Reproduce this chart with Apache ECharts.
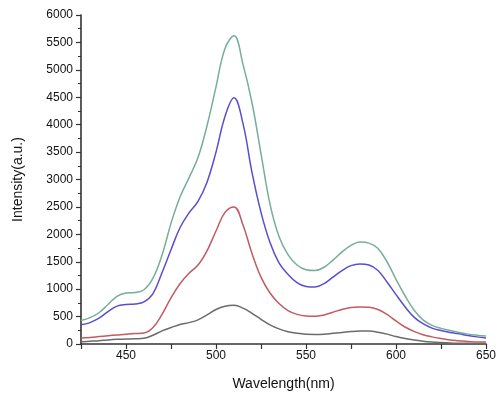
<!DOCTYPE html>
<html>
<head>
<meta charset="utf-8">
<script src="https://cdn.jsdelivr.net/npm/echarts@6/dist/echarts.min.js"></script>
<style>
  html, body { margin: 0; padding: 0; background: #fff; }
  #chart { width: 498px; height: 397px; }
</style>
</head>
<body>
<div id="chart"></div>
<script>
// Emission spectra, 425–650 nm, sampled every 5 nm
const wavelengths = [
  425, 430, 435, 440, 445, 450, 455, 460, 465, 470,
  475, 480, 485, 490, 495, 500, 505, 510, 515, 520,
  525, 530, 535, 540, 545, 550, 555, 560, 565, 570,
  575, 580, 585, 590, 595, 600, 605, 610, 615, 620,
  625, 630, 635, 640, 645, 650
];

const grayCurve = [
  40, 50, 60, 75, 85, 90, 95, 105, 160, 240,
  300, 355, 390, 440, 530, 630, 690, 705, 655, 560,
  450, 350, 275, 225, 195, 178, 175, 180, 195, 210,
  228, 237, 235, 215, 180, 135, 100, 72, 52, 38,
  28, 20, 15, 12, 10, 8
];

const redCurve = [
  110, 120, 135, 150, 165, 180, 190, 200, 300, 540,
  840, 1100, 1290, 1440, 1700, 2060, 2400, 2500, 2170, 1650,
  1220, 930, 740, 610, 540, 510, 505, 530, 580, 630,
  665, 675, 670, 630, 540, 420, 310, 230, 170, 130,
  100, 75, 60, 45, 38, 35
];

const blueCurve = [
  350, 390, 470, 590, 690, 720, 730, 770, 920, 1300,
  1720, 2120, 2390, 2600, 2950, 3500, 4150, 4490, 4020, 3130,
  2400, 1850, 1480, 1270, 1120, 1050, 1040, 1100, 1220, 1340,
  1430, 1460, 1440, 1340, 1130, 900, 680, 490, 370, 290,
  245, 210, 185, 155, 130, 110
];

const greenCurve = [
  430, 480, 570, 720, 870, 930, 940, 990, 1200, 1620,
  2200, 2680, 3030, 3400, 3980, 4690, 5390, 5620, 5100, 4400,
  3470, 2550, 1960, 1630, 1440, 1355, 1340, 1400, 1530, 1680,
  1800, 1860, 1840, 1740, 1500, 1180, 880, 620, 440, 340,
  285, 245, 210, 180, 160, 145
];

const xTickLabels = ['450', '500', '550', '600', '650'];

const seriesDefs = [
  { name: 'gray',  values: grayCurve,  color: '#6b6b6b' },
  { name: 'red',   values: redCurve,   color: '#c25b62' },
  { name: 'blue',  values: blueCurve,  color: '#5b4dd1' },
  { name: 'green', values: greenCurve, color: '#76ae9a' }
];

const font = 'Liberation Sans, Arial, sans-serif';

const chart = echarts.init(document.getElementById('chart'), null, { renderer: 'canvas' });

chart.setOption({
  animation: false,
  backgroundColor: '#ffffff',
  grid: { left: 81, right: 12, top: 15, bottom: 53, outerBoundsMode: 'none' },
  xAxis: {
    type: 'value',
    min: 425,
    max: 650,
    interval: 25,
    name: 'Wavelength(nm)',
    nameLocation: 'middle',
    nameGap: 33,
    nameTextStyle: { fontFamily: font, fontSize: 14, color: '#111' },
    axisLine: { show: true, onZero: false, lineStyle: { color: '#333', width: 1.6 } },
    axisTick: { show: true, inside: false, length: 5, lineStyle: { color: '#333', width: 1.2 } },
    axisLabel: {
      fontFamily: font, fontSize: 12, color: '#111', margin: 6,
      formatter: v => (xTickLabels.indexOf(String(v)) >= 0 ? String(v) : '')
    },
    splitLine: { show: false }
  },
  yAxis: {
    type: 'value',
    min: 0,
    max: 6000,
    interval: 500,
    name: 'Intensity(a.u.)',
    nameLocation: 'middle',
    nameGap: 56,
    nameTextStyle: { fontFamily: font, fontSize: 14, color: '#111' },
    axisLine: { show: true, lineStyle: { color: '#333', width: 1.6 } },
    axisTick: { show: true, inside: false, length: 5, lineStyle: { color: '#333', width: 1.2 } },
    minorTick: { show: true, splitNumber: 2, length: 3, lineStyle: { color: '#333', width: 1 } },
    axisLabel: { fontFamily: font, fontSize: 12, color: '#111', margin: 8, formatter: v => String(v) },
    splitLine: { show: false }
  },
  series: seriesDefs.map(s => ({
    name: s.name,
    type: 'line',
    smooth: 0.4,
    symbol: 'none',
    lineStyle: { color: s.color, width: 1.5 },
    data: wavelengths.map((w, i) => [w, s.values[i]])
  }))
});
</script>
</body>
</html>
